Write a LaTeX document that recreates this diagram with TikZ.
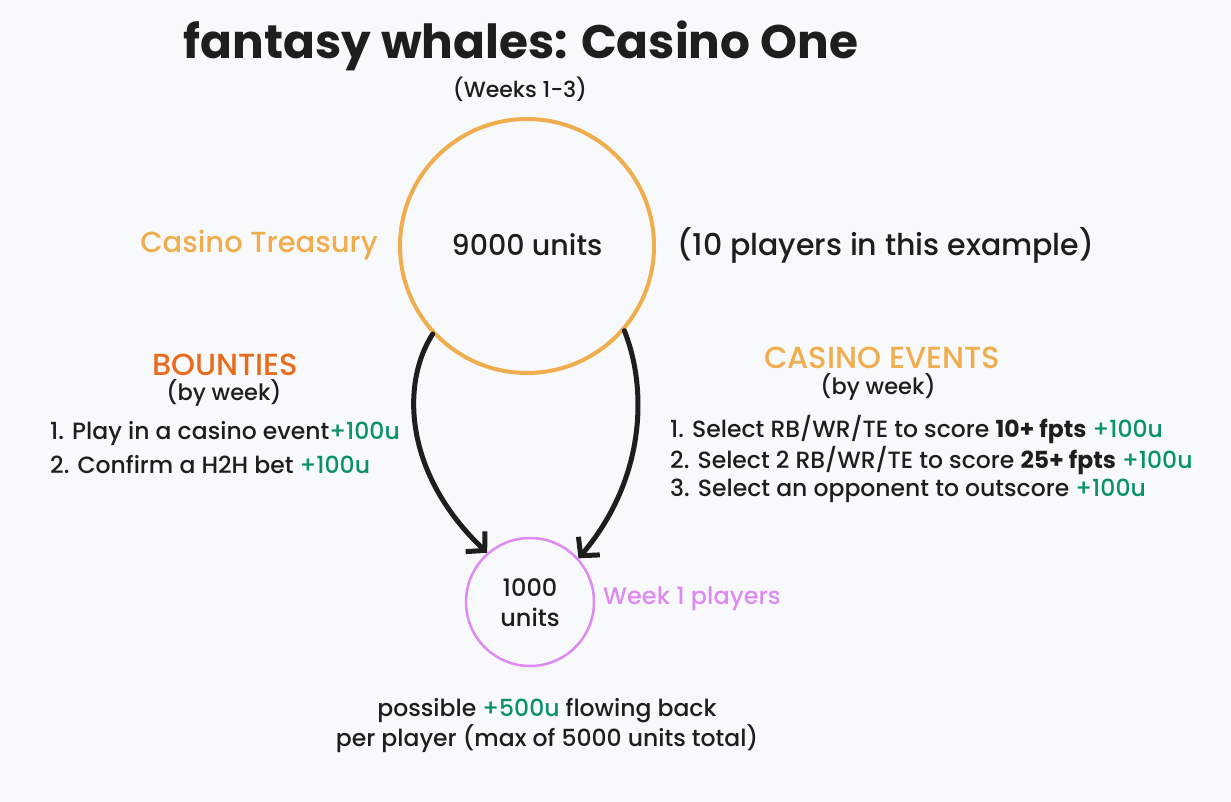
\documentclass[tikz,border=0pt]{standalone}
\usepackage{fontspec}
\setmainfont{Poppins}[UprightFont=* Medium,BoldFont=* Bold]
\usetikzlibrary{arrows.meta}
\definecolor{bgc}{RGB}{248,249,250}
\definecolor{ink}{RGB}{30,30,30}
\definecolor{orng}{RGB}{240,173,78}
\definecolor{dorng}{RGB}{232,108,30}
\definecolor{grn}{RGB}{9,146,104}
\definecolor{vio}{RGB}{222,138,242}
\newcommand{\gr}[1]{\textcolor{grn}{#1}}
\begin{document}
\begin{tikzpicture}[x=1pt,y=-1pt,
  txt/.style={inner sep=0pt,text=ink,font=\fontsize{24}{30}\selectfont},
  lst/.style={inner sep=0pt,text=ink,anchor=west,font=\fontsize{23.5}{30}\selectfont},
  head/.style={inner sep=0pt,font=\fontsize{30.5}{34}\selectfont},
  flow/.style={draw=ink,line width=5pt,line cap=round,-{Straight Barb[length=13pt,width=28pt,line width=5pt]}}]
\fill[bgc] (0,0) rectangle (1231,802);
\useasboundingbox (0,0) rectangle (1231,802);
% title
\node[inner sep=0pt,text=ink,font=\fontsize{47}{50}\selectfont\bfseries] (title) at (521,46) {fantasy whales: Casino One};
\node[txt,font=\fontsize{22}{26}\selectfont] (weeks) at (520,89) {(Weeks 1-3)};
% circles
\node[circle,draw=orng,line width=4pt,minimum size=254pt,inner sep=0pt] (T) at (527,246) {};
\node[txt,font=\fontsize{28.5}{32}\selectfont] (tu) at (527,245) {9000 units};
\node[head,font=\fontsize{29}{32}\selectfont,text=orng] (tl) at (259,245) {Casino Treasury};
\node[txt,font=\fontsize{30}{32}\selectfont] (ex) at (886,245) {(10 players in this example)};
\node[circle,draw=vio,line width=2.5pt,minimum size=128pt,inner sep=0pt] (P) at (530,602) {};
\node[txt,align=center] (pu) at (530,603) {1000\\units};
\node[txt,anchor=west,text=vio] (pl) at (603,599) {Week 1 players};
% bounties
\node[head,text=dorng] (bh) at (225,365) {BOUNTIES};
\node[txt,font=\fontsize{22.5}{30}\selectfont] (bw) at (224,393) {(by week)};
\node[lst] (b1) at (50,433) {1. Play in a casino event\gr{+100u}};
\node[lst] (b2) at (50,465) {2. Confirm a H2H bet \gr{+100u}};
% casino events
\node[head,text=orng] (ch) at (882,358) {CASINO EVENTS};
\node[txt,font=\fontsize{22.5}{30}\selectfont] (cw) at (878,387) {(by week)};
\node[lst] (c1) at (670,430) {1. Select RB/WR/TE to score \textbf{10+ fpts} \gr{+100u}};
\node[lst] (c2) at (670,461) {2. Select 2 RB/WR/TE to score \textbf{25+ fpts} \gr{+100u}};
\node[lst] (c3) at (670,491) {3. Select an opponent to outscore \gr{+100u}};
% bottom
\node[txt,align=center,font=\fontsize{23.5}{30}\selectfont] (bot) at (547,726) {possible \gr{+500u} flowing back\\per player (max of 5000 units total)};
% arrows
\draw[flow] (T.223) .. controls (400,385) and (405,475) .. (P.131);
\draw[flow] (T.319) .. controls (648,390) and (645,480) .. (P.42);
\end{tikzpicture}
\end{document}
